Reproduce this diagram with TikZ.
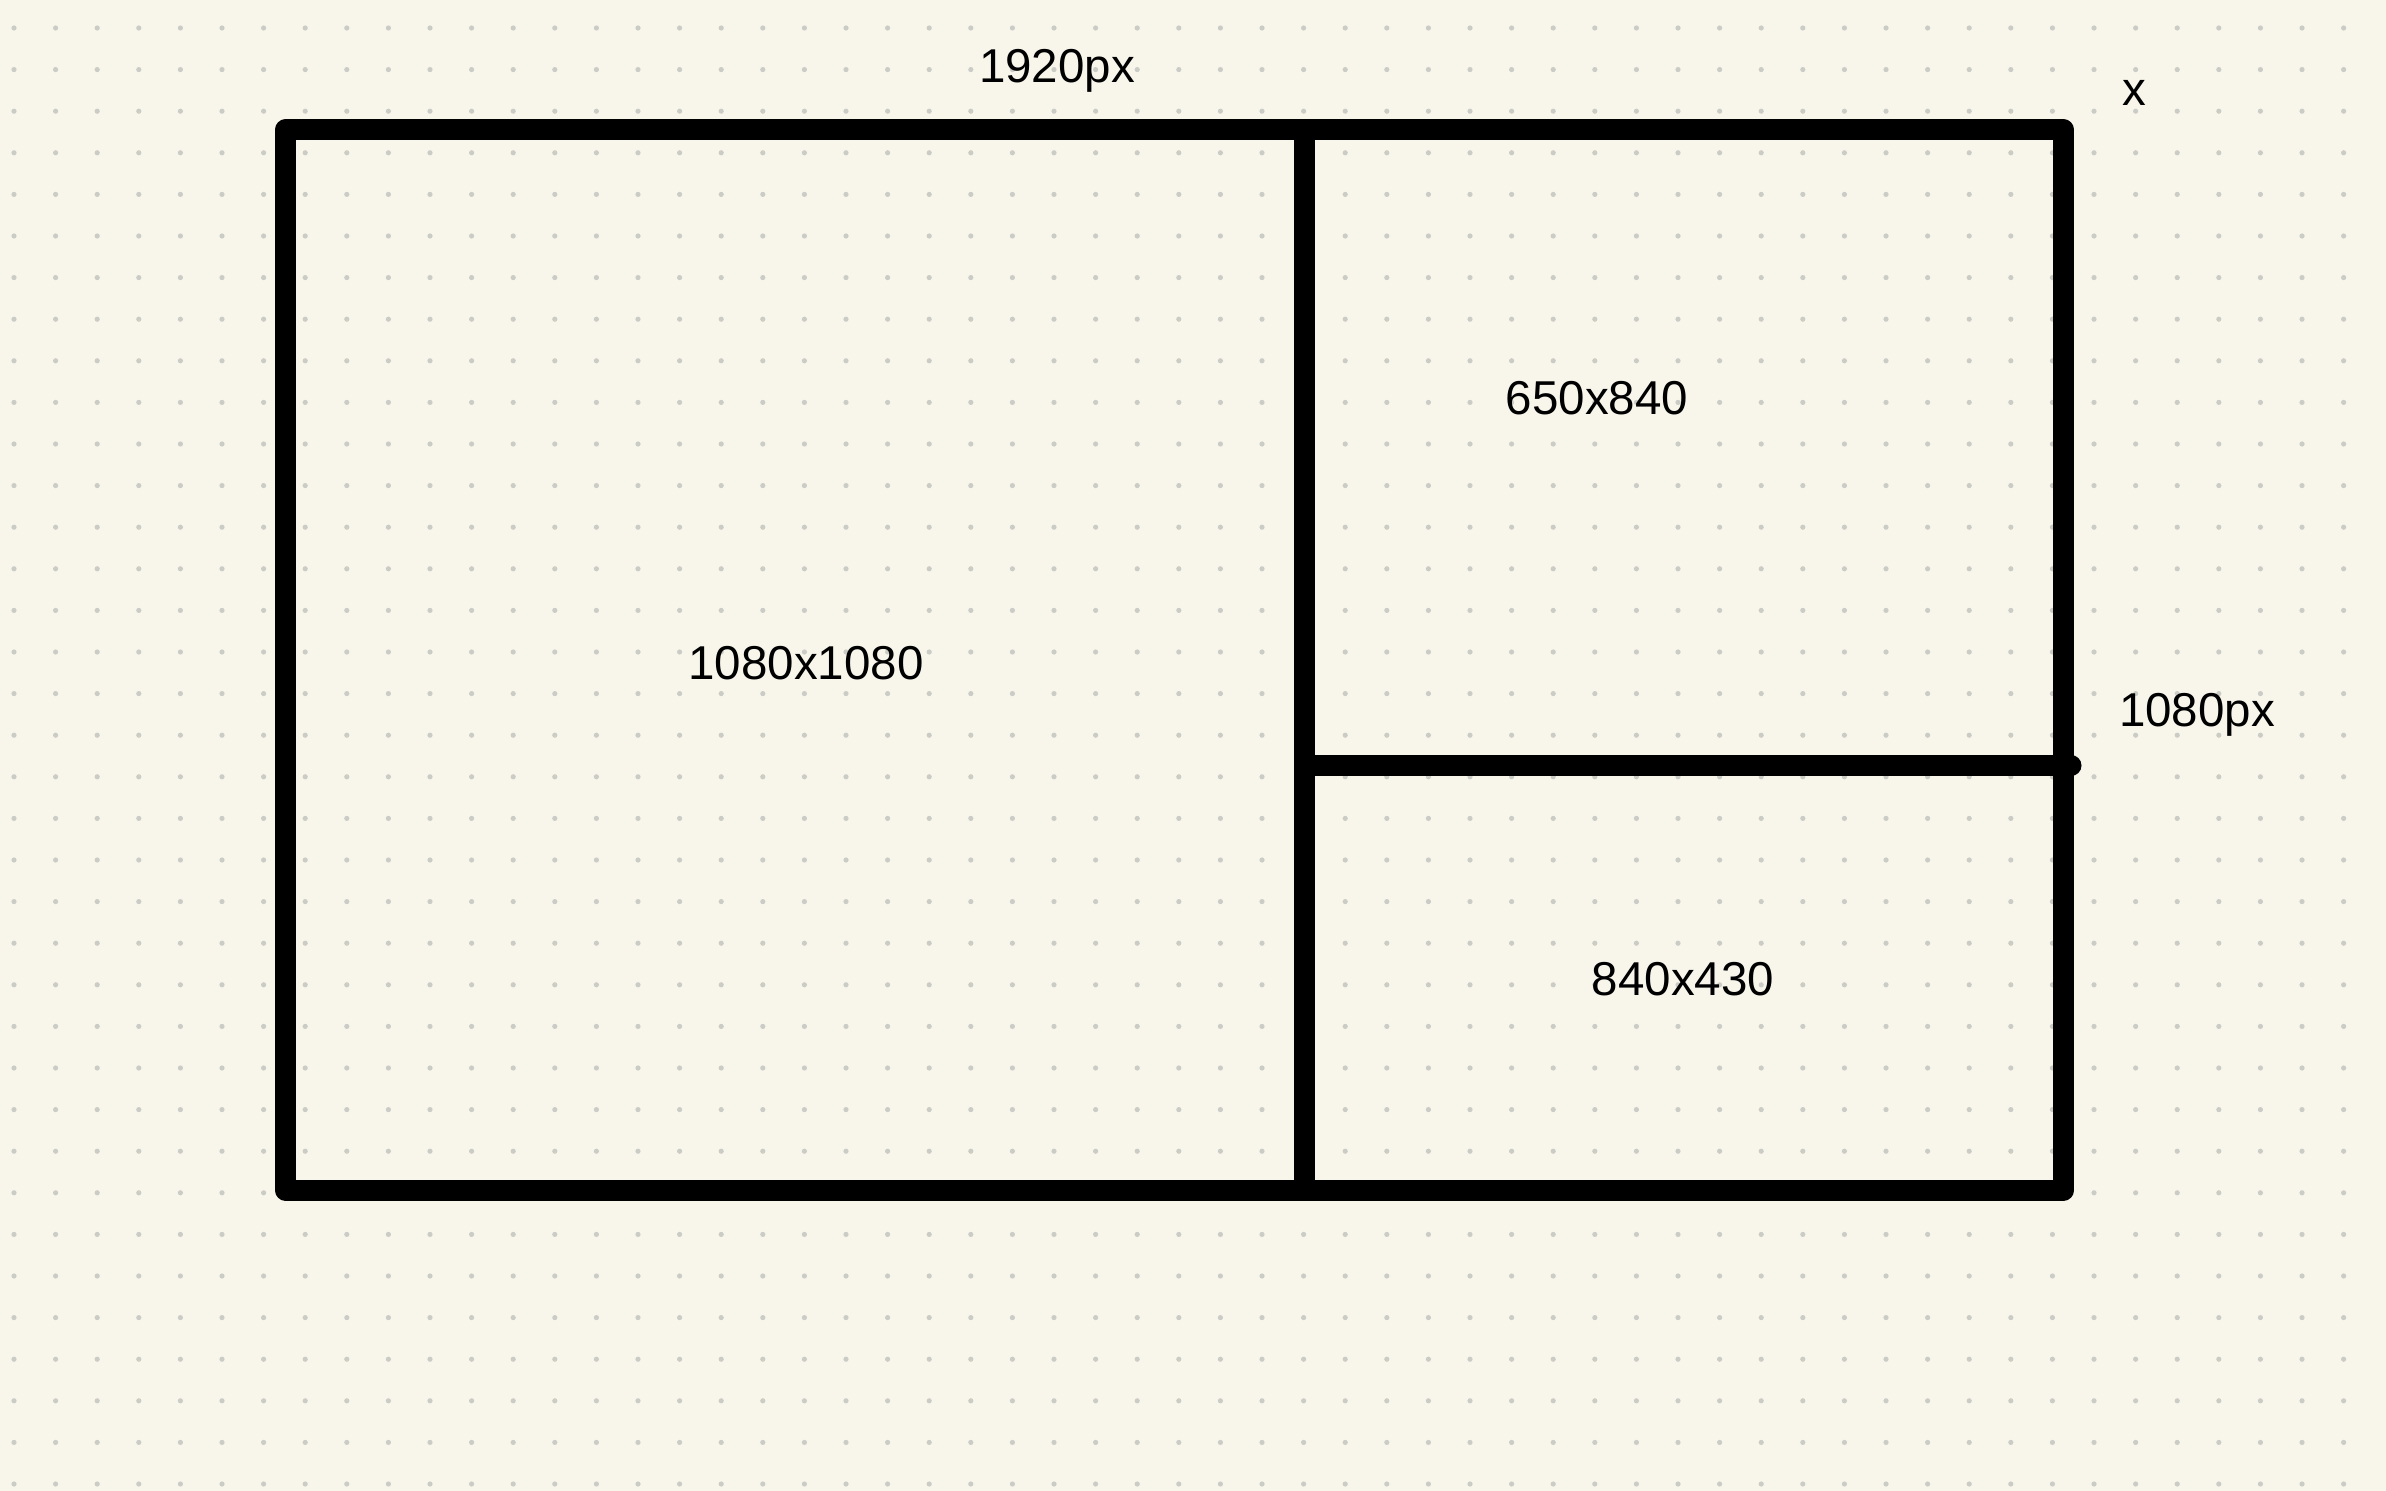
\documentclass[tikz,border=0pt]{standalone}
\usepackage{fontspec}
\setmainfont{Liberation Sans}
\definecolor{bgpaper}{RGB}{248,246,235}
\definecolor{dotgray}{RGB}{204,204,198}
\begin{document}
\begin{tikzpicture}[x=0.5pt,y=-0.5pt,
  frame/.style={line width=10.5pt,line cap=round,line join=round,black},
  lbl/.style={anchor=base,inner sep=0pt,font=\fontsize{23.75pt}{28pt}\selectfont}]
\fill[bgpaper] (0,0) rectangle (2386,1491);
\useasboundingbox (0,0) rectangle (2386,1491);
\foreach \i in {0,...,56}{
  \foreach \j in {0,...,35}{
    \fill[dotgray] ({14+41.6*\i},{28+41.6*\j}) circle[radius=2.6];
  }
}
\coordinate (tl) at (285.5,130);
\coordinate (tr) at (2063.5,130);
\coordinate (br) at (2063.5,1190);
\coordinate (bl) at (285.5,1190);
\coordinate (mt) at (1304.5,130);
\coordinate (mb) at (1304.5,1190);
\coordinate (hl) at (1304.5,765.5);
\coordinate (hr) at (2071,765.5);
\draw[frame] (tl) -- (tr) -- (br) -- (bl) -- cycle;
\draw[frame] (mt) -- (mb);
\draw[frame] (hl) -- (hr);
\node[lbl] (w) at (1057,82.7) {1920px};
\node[lbl] (xx) at (2134.6,106) {x};
\node[lbl] (h) at (2197,726) {1080px};
\node[lbl] (big) at (806,679) {1080x1080};
\node[lbl] (tr1) at (1597,415) {650x840};
\node[lbl] (br1) at (1683,995) {840x430};
\end{tikzpicture}
\end{document}
